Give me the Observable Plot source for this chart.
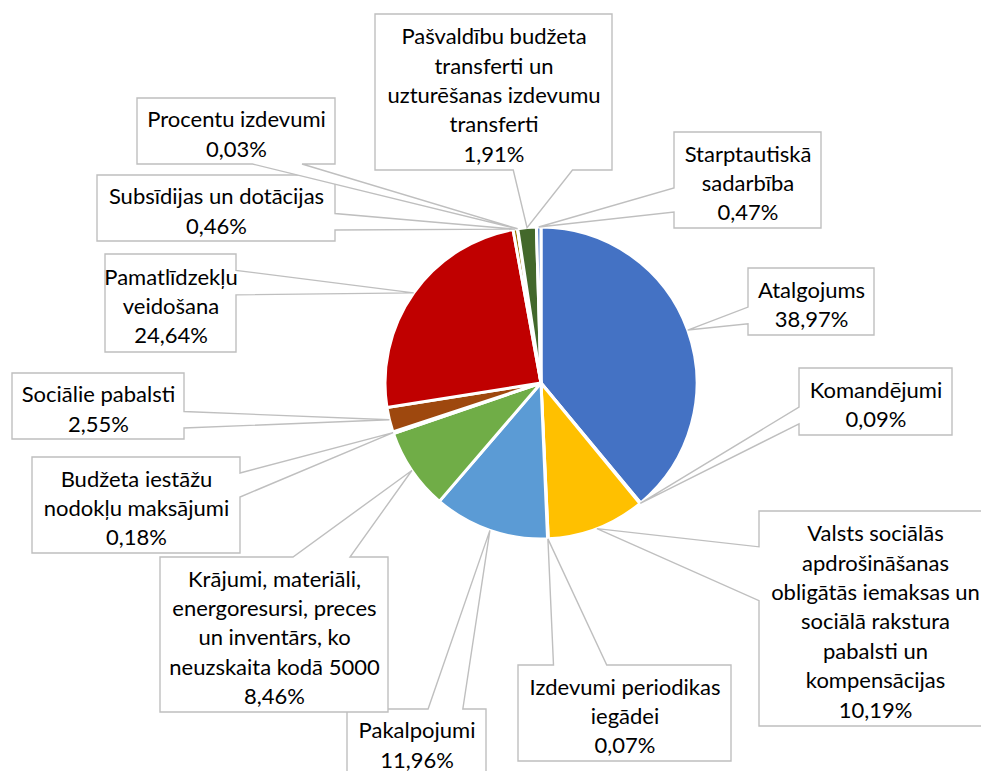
<!DOCTYPE html>
<html>
<head>
<meta charset="utf-8">
<script src="https://cdn.jsdelivr.net/npm/d3@7"></script>
<script src="https://cdn.jsdelivr.net/npm/@observablehq/plot@0.6"></script>
<style>
  html, body { margin: 0; padding: 0; background: #fff; }
  #chart svg { display: block; }
</style>
</head>
<body>
<div id="chart"></div>
<script>
// ---- data ----
const categories = [
  "Atalgojums",
  "Komandējumi",
  "Valsts sociālās\napdrošināšanas\nobligātās iemaksas un\nsociālā rakstura\npabalsti un\nkompensācijas",
  "Izdevumi periodikas\niegādei",
  "Pakalpojumi",
  "Krājumi, materiāli,\nenergoresursi, preces\nun inventārs, ko\nneuzskaita kodā 5000",
  "Budžeta iestāžu\nnodokļu maksājumi",
  "Sociālie pabalsti",
  "Pamatlīdzekļu\nveidošana",
  "Subsīdijas un dotācijas",
  "Procentu izdevumi",
  "Pašvaldību budžeta\ntransferti un\nuzturēšanas izdevumu\ntransferti",
  "Starptautiskā\nsadarbība"
];
const shares = [38.97, 0.09, 10.19, 0.07, 11.96, 8.46, 0.18, 2.55, 24.64, 0.46, 0.03, 1.91, 0.47];
const sliceColors = ["#4472C4", "#ED7D31", "#FFC000", "#A5A5A5", "#5B9BD5", "#70AD47",
                     "#264478", "#9E480E", "#C00000", "#997300", "#255E91", "#43682B", "#698ED0"];

// ---- layout (label box placement: left, top, right, bottom) ----
const pieCenter = [541, 383];
const pieRadius = 156;
const labelBoxes = [
  [748, 268, 874, 335],
  [799, 368, 952, 435],
  [759, 511, 991, 726],
  [518, 665, 731, 761],
  [347, 709, 486, 775],
  [160, 557, 388, 712],
  [32, 457, 240, 553],
  [12, 373, 184, 439],
  [105, 254, 236, 352],
  [97, 175, 335, 241],
  [137, 98, 335, 164],
  [375, 14, 612, 170],
  [674, 132, 821, 228]
];

const fmtPct = v => v.toFixed(2).replace(".", ",") + "%";
const rows = categories.map((c, i) => ({name: c, share: shares[i], color: sliceColors[i], box: labelBoxes[i]}));
const arcs = d3.pie().sort(null).value(d => d.share)(rows);

function calloutPath(l, t, r, b, px, py) {
  const w = r - l, h = b - t, hc = (l + r) / 2, vc = (t + b) / 2;
  const dx = px - hc, dy = py - vc, dq = dx * h / w;
  const x1 = l + w * (dx > 0 ? 7 : 2) / 12, x2 = l + w * (dx > 0 ? 10 : 5) / 12;
  const y1 = t + h * (dy > 0 ? 7 : 2) / 12, y2 = t + h * (dy > 0 ? 10 : 5) / 12;
  const vert = Math.abs(dy) > Math.abs(dq);
  let p = `M${l},${t}`;
  if (vert && dy < 0) p += `L${x1},${t}L${px},${py}L${x2},${t}`;
  p += `L${r},${t}`;
  if (!vert && dx > 0) p += `L${r},${y1}L${px},${py}L${r},${y2}`;
  p += `L${r},${b}`;
  if (vert && dy > 0) p += `L${x2},${b}L${px},${py}L${x1},${b}`;
  p += `L${l},${b}`;
  if (!vert && dx < 0) p += `L${l},${y2}L${px},${py}L${l},${y1}`;
  return p + "Z";
}

function pieMark(index, scales) {
  const cx = scales.x(pieCenter[0]), cy = scales.y(pieCenter[1]);
  const R = scales.x(pieCenter[0] + pieRadius) - cx;
  const arc = d3.arc().innerRadius(0).outerRadius(R);
  const g = d3.create("svg:g").attr("transform", `translate(${cx},${cy})`);
  g.selectAll("path").data(arcs).join("path")
    .attr("d", arc)
    .attr("fill", d => d.data.color)
    .attr("stroke", "#fff")
    .attr("stroke-width", 3)
    .attr("stroke-linejoin", "round");
  return g.node();
}

function calloutMark(index, scales) {
  const cx = scales.x(pieCenter[0]), cy = scales.y(pieCenter[1]);
  const R = scales.x(pieCenter[0] + pieRadius) - cx;
  const g = d3.create("svg:g");
  arcs.forEach(a => {
    const m = (a.startAngle + a.endAngle) / 2;
    const px = cx + R * Math.sin(m), py = cy - R * Math.cos(m);
    const [l, t, r, b] = a.data.box;
    g.append("path")
      .attr("d", calloutPath(scales.x(l), scales.y(t), scales.x(r), scales.y(b), px, py))
      .attr("fill", "#fff")
      .attr("stroke", "#BFBFBF")
      .attr("stroke-width", 1.4)
      .attr("stroke-linejoin", "miter");
  });
  return g.node();
}

const fontSize = 22;
const chart = Plot.plot({
  width: 981,
  height: 771,
  margin: 0,
  x: {domain: [0, 981], range: [0, 981], axis: null},
  y: {domain: [0, 771], range: [0, 771], axis: null},
  style: {background: "#fff", overflow: "hidden"},
  marks: [
    pieMark,
    calloutMark,
    Plot.text(rows, {
      x: d => (d.box[0] + d.box[2]) / 2,
      y: d => (d.box[1] + d.box[3]) / 2 + 1,
      text: d => d.name + "\n" + fmtPct(d.share),
      fontFamily: "Lato",
      fontSize: fontSize,
      lineHeight: 29.4 / fontSize,
      lineAnchor: "middle",
      textAnchor: "middle",
      fill: "#000"
    })
  ]
});
document.getElementById("chart").appendChild(chart);
</script>
</body>
</html>
